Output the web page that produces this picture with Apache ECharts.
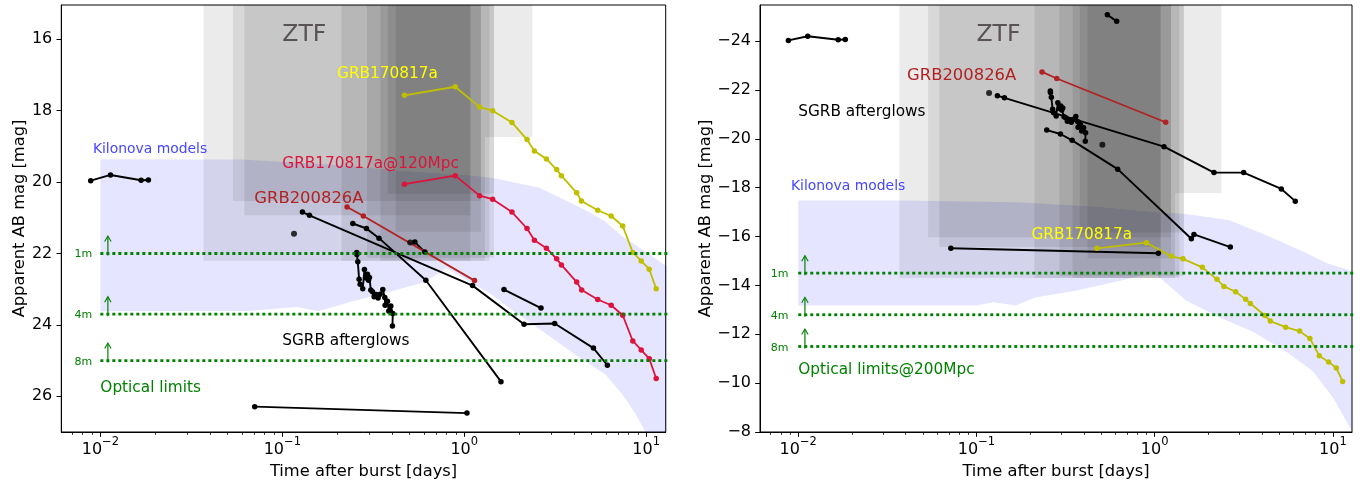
<!DOCTYPE html>
<html><head><meta charset="utf-8">
<script src="https://cdn.jsdelivr.net/npm/echarts@6/dist/echarts.min.js"></script>
<style>html,body{margin:0;padding:0;background:#fff;}#c{width:1367px;height:485px;}</style>
</head><body><div id="c"></div>
<script>
// ================= DATA =================
const xTickValues = [0.01, 0.1, 1, 10];
const xMinorTicks = [0.007,0.008,0.009,0.02,0.03,0.04,0.05,0.06,0.07,0.08,0.09,0.2,0.3,0.4,0.5,0.6,0.7,0.8,0.9,2,3,4,5,6,7,8,9];
const yTicksLeft = [16, 18, 20, 22, 24, 26];
const yTicksRight = [-24, -22, -20, -18, -16, -14, -12, -10, -8];

// ZTF observing windows (days) and depth (apparent / absolute @200Mpc)
const ztfStart = [0.0369, 0.0535, 0.0618, 0.2115, 0.292, 0.346, 0.38, 0.42, 1.30];
const ztfEnd   = [1.375, 1.235, 1.08, 1.30, 1.458, 1.08, 1.458, 1.235, 2.366];
const ztfLimitApp = [22.2, 20.53, 20.93, 22.2, 22.12, 22.2, 20.33, 21.39, 18.74];
const ztfLimitAbs = [-14.3, -15.97, -15.57, -14.3, -14.38, -14.3, -16.17, -15.11, -17.78];

// Kilonova model envelopes
const kiloUpTL = [0.01, 0.06, 0.2, 0.44, 1.03, 1.42, 2.6, 3.6, 4.83, 5.97, 7.38, 9.51, 12.88, 15];
const kiloUpML = [19.36, 19.37, 19.52, 19.68, 19.81, 19.88, 20.16, 20.51, 20.83, 21.11, 21.52, 21.89, 22.35, 22.6];
const kiloLoTL = [0.01, 0.066, 0.12, 0.158, 0.236, 0.39, 0.6, 0.8, 1.39, 1.95, 2.97, 4.54, 5.97, 7.38, 8.73, 9.91, 11, 15];
const kiloLoML = [23.62, 23.61, 23.50, 23.62, 23.36, 23.07, 22.81, 22.41, 23.13, 23.68, 24.33, 25.0, 25.39, 25.94, 26.49, 27.0, 27.5, 29];
const kiloUpTR = [0.01, 0.037, 0.17, 0.49, 1.0, 1.5, 2.63, 4.4, 7.1, 9.2, 12.74, 15];
const kiloUpMR = [-17.48, -17.48, -17.41, -17.21, -17.0, -16.92, -16.67, -16.0, -15.33, -14.92, -14.59, -14.45];
const kiloLoTR = [0.01, 0.1, 0.1245, 0.1655, 0.214, 0.36, 0.64, 1.0, 1.5, 2.3, 3.56, 5.48, 7.73, 10, 12.74, 15];
const kiloLoMR = [-13.18, -13.18, -13.31, -13.18, -13.51, -13.78, -14.19, -14.5, -13.38, -12.7, -12.1, -11.29, -10.49, -9.41, -8.07, -7.5];

// Optical limits
const limitNames = ['1m', '4m', '8m'];
const limitsApp = [22.0, 23.7, 25.0];
const limitsAbs = [-14.5, -12.8, -11.5];
const limitStartT = 0.01;
const limitEndT = 20;

// SGRB afterglows (apparent)
const sgrbA_L = [[0.00885,19.96],[0.01137,19.80],[0.01675,19.95],[0.01837,19.94]];
const sgrbB_L = [[0.129,20.84],[0.141,20.93],[1.111,22.90],[2.131,23.98],[3.141,23.96],[5.13,24.65],[6.12,25.13]];
const sgrbC_L = [[0.244,21.16],[0.290,21.30],[0.340,21.57],[0.615,22.75],[1.592,25.59]];
const sgrbD_L = [[0.2566,21.97],[0.2570,22.03],[0.260,22.23],[0.2643,22.72],[0.2677,22.86],[0.2768,22.99],[0.2827,22.45],[0.2887,22.69],[0.2938,22.58],[0.2975,22.75],[0.3013,22.67],[0.3064,23.02],[0.313,23.07],[0.3197,23.21],[0.3279,23.15],[0.3363,23.25],[0.3449,23.14],[0.3567,23.01],[0.3659,23.23],[0.3674,23.45],[0.3784,23.34],[0.3848,23.61],[0.3947,23.47],[0.4048,23.68],[0.4031,24.03]];
const sgrbE_L = [[1.654,23.01],[2.642,23.53]];
const sgrbF_L = [[0.0705,26.29],[1.035,26.47]];
const sgrbG_L = [[0.5353,21.68],[0.6076,21.96]];
const sgrbDots_L = [[0.116,21.45],[0.5045,21.69]];
const grb200826_L = [[0.227,20.70],[0.279,20.95],[1.139,22.76]];
const grb170817_L = [[0.469,17.57],[0.892,17.33],[1.214,17.90],[1.432,18.00],[1.829,18.33],[2.213,18.81],[2.43,19.13],[2.827,19.35],[3.221,19.65],[3.42,19.82],[4.15,20.30],[4.406,20.53],[5.415,20.79],[6.418,20.95],[7.43,21.23],[8.44,21.97],[9.39,22.21],[10.39,22.44],[11.35,22.99]];
const grb170817at120_L = [[0.469,20.06],[0.892,19.82],[1.214,20.38],[1.432,20.48],[1.829,20.84],[2.213,21.30],[2.43,21.63],[2.83,21.85],[3.22,22.15],[3.42,22.32],[4.15,22.80],[4.42,23.02],[5.415,23.29],[6.418,23.45],[7.43,23.73],[8.44,24.45],[9.39,24.70],[10.4,24.95],[11.35,25.50]];

// SGRB afterglows (absolute)
const sgrbA_R = [[0.0088,-24.03],[0.0113,-24.20],[0.01675,-24.06],[0.01836,-24.07]];
const sgrbB_R = [[0.131,-21.77],[0.1435,-21.68],[1.128,-19.68],[2.151,-18.62],[3.157,-18.62],[5.135,-17.95],[6.152,-17.45]];
const sgrbC_R = [[0.248,-20.36],[0.296,-20.20],[0.344,-19.94],[0.620,-18.76],[1.606,-15.91]];
const sgrbD_R = [[0.2597,-21.96],[0.2601,-21.90],[0.2631,-21.70],[0.2675,-21.21],[0.2709,-21.07],[0.2801,-20.94],[0.2861,-21.48],[0.2922,-21.24],[0.2973,-21.35],[0.3011,-21.18],[0.3049,-21.26],[0.3101,-20.91],[0.3168,-20.86],[0.3235,-20.72],[0.3318,-20.78],[0.3403,-20.68],[0.349,-20.79],[0.361,-20.92],[0.3703,-20.70],[0.3718,-20.48],[0.383,-20.59],[0.3894,-20.32],[0.3994,-20.46],[0.4097,-20.25],[0.408,-19.90]];
const sgrbE_R = [[1.661,-16.09],[2.658,-15.57]];
const sgrbF_R = [[0.0718,-15.52],[1.049,-15.32]];
const sgrbG_R = [[0.5425,-25.08],[0.6119,-24.81]];
const sgrbDots_R = [[0.1177,-21.88],[0.5087,-19.76]];
const grb200826_R = [[0.2333,-22.74],[0.2821,-22.47],[1.153,-20.68]];
const grb170817_R = [[0.4747,-15.52],[0.8985,-15.75],[1.241,-15.19],[1.441,-15.09],[1.851,-14.74],[2.236,-14.25],[2.447,-13.96],[2.847,-13.74],[3.238,-13.43],[3.442,-13.26],[4.156,-12.77],[4.456,-12.54],[5.429,-12.29],[6.505,-12.13],[7.43,-11.83],[8.39,-11.12],[9.46,-10.87],[10.45,-10.62],[11.34,-10.07]];

// ================= STYLE / LAYOUT =================
const FONT = 'DejaVu Sans';
const X_MIN = 0.0061, X_MAX = 12.8;
const Y_L = [15.04, 27.0], Y_R = [-25.48, -8.0];
const C = {black:'#000000', yellow:'#bfbf00', crimson:'#dc143c', brown:'#b22222', green:'#008000'};

const annotL = [
  {text:'ZTF', t:0.1, m:16.03, color:'#5a5353', size:23.5},
  {text:'GRB170817a', t:0.2, m:17.02, color:'#ffff00', size:15.3},
  {text:'GRB170817a@120Mpc', t:0.1, m:19.52, color:'#dc143c', size:15.3},
  {text:'GRB200826A', t:0.0702, m:20.51, color:'#b22222', size:16.4},
  {text:'Kilonova models', t:0.0091, m:19.12, color:'#4646ff', size:13.9},
  {text:'SGRB afterglows', t:0.1, m:24.49, color:'#000000', size:15.3},
  {text:'Optical limits', t:0.01, m:25.82, color:'#008000', size:15.3}
];
const annotR = [
  {text:'ZTF', t:0.1, m:-24.04, color:'#5a5353', size:23.5},
  {text:'GRB170817a', t:0.2035, m:-16.0, color:'#ffff00', size:15.3},
  {text:'GRB200826A', t:0.0408, m:-22.5, color:'#b22222', size:16.4},
  {text:'Kilonova models', t:0.0091, m:-18.02, color:'#4646ff', size:13.9},
  {text:'SGRB afterglows', t:0.01, m:-21.04, color:'#000000', size:15.3},
  {text:'Optical limits@200Mpc', t:0.01, m:-10.48, color:'#008000', size:15.3}
];
const limitLabelT = [0.0072, 0.0070];
const arrowT = [0.011, 0.0109];

function fmtPow(v){
  const e = Math.round(Math.log10(v));
  return '{b|10}{s|' + (e < 0 ? '\u2212' + (-e) : String(e)) + '}';
}
function fmtY(v){ return v < 0 ? '\u2212' + Math.abs(v) : String(v); }

function xAxisMain(gi){
  return {type:'log', logBase:10, gridIndex:gi, min:X_MIN, max:X_MAX, position:'bottom',
    name:'Time after burst [days]', nameLocation:'middle', nameGap:32,
    nameTextStyle:{fontFamily:FONT, fontSize:16.3, color:'#000'},
    axisLine:{show:true, onZero:false, lineStyle:{color:'#000', width:1}},
    axisTick:{show:true, inside:false, length:4.8, lineStyle:{color:'#000', width:1}, customValues:xTickValues},
    axisLabel:{show:true, margin:4, customValues:xTickValues, formatter:fmtPow,
      rich:{b:{fontFamily:FONT, fontSize:16, color:'#000', lineHeight:22, verticalAlign:'bottom'},
            s:{fontFamily:FONT, fontSize:11.5, color:'#000', lineHeight:12, verticalAlign:'top'}}},
    splitLine:{show:false}};
}
function xAxisMinor(gi){
  return {type:'log', logBase:10, gridIndex:gi, min:X_MIN, max:X_MAX, position:'bottom',
    axisLine:{show:false}, axisLabel:{show:false}, splitLine:{show:false},
    axisTick:{show:true, inside:false, length:2.8, lineStyle:{color:'#000', width:0.8}, customValues:xMinorTicks}};
}
function yAxis(gi, ext, ticks, gap){
  return {type:'value', gridIndex:gi, min:ext[0], max:ext[1], inverse:true,
    name:'Apparent AB mag [mag]', nameLocation:'middle', nameGap:gap,
    nameTextStyle:{fontFamily:FONT, fontSize:16.3, color:'#000'},
    axisLine:{show:true, onZero:false, lineStyle:{color:'#000', width:1}},
    axisTick:{show:true, inside:false, length:4.8, lineStyle:{color:'#000', width:1}, customValues:ticks},
    axisLabel:{show:true, margin:9, customValues:ticks, formatter:fmtY, fontFamily:FONT, fontSize:16, color:'#000'},
    splitLine:{show:false}};
}

function lineS(p, data, color, width, z){
  return {type:'line', xAxisIndex:p, yAxisIndex:p, data:data, symbol:'circle', symbolSize:5.5,
    showSymbol:true, itemStyle:{color:color}, lineStyle:{color:color, width:width||1.9},
    z:z||6, silent:true, animation:false, clip:true};
}
function dotsS(p, data){
  return {type:'scatter', xAxisIndex:p, yAxisIndex:p, data:data, symbol:'circle', symbolSize:6,
    itemStyle:{color:'#000'}, z:6, silent:true, animation:false};
}
function bandS(p, upT, upM, loT, loM){
  return {type:'custom', xAxisIndex:p, yAxisIndex:p, clip:true, silent:true, z:2, animation:false,
    data:[[upT[0], upM[0]]],
    renderItem:function(params, api){
      const pts = [];
      for (let i = 0; i < upT.length; i++) pts.push(api.coord([upT[i], upM[i]]));
      for (let i = loT.length - 1; i >= 0; i--) pts.push(api.coord([loT[i], loM[i]]));
      return {type:'polygon', shape:{points:pts}, style:{fill:'rgba(0,0,255,0.1)'}};
    }};
}
function ztfS(p, lims, top){
  const data = ztfStart.map((s, i) => [s, ztfEnd[i], lims[i]]);
  return {type:'custom', xAxisIndex:p, yAxisIndex:p, clip:true, silent:true, z:3, animation:false,
    data:data, encode:{x:[0,1], y:2},
    renderItem:function(params, api){
      const a = api.coord([api.value(0), top]);
      const b = api.coord([api.value(1), api.value(2)]);
      return {type:'rect', shape:{x:a[0], y:a[1], width:b[0]-a[0], height:b[1]-a[1]}, style:{fill:'rgba(0,0,0,0.08)'}};
    }};
}
function limitLines(p, lims){
  return lims.map(l => ({type:'line', xAxisIndex:p, yAxisIndex:p, data:[[limitStartT, l],[limitEndT, l]],
    symbol:'none', lineStyle:{color:C.green, width:2.8, type:[3,3]}, z:7, silent:true, animation:false, clip:true}));
}
function arrowsS(p, lims, t){
  return {type:'custom', xAxisIndex:p, yAxisIndex:p, silent:true, z:8, animation:false,
    data:lims.map(l => [t, l]),
    renderItem:function(params, api){
      const c = api.coord([api.value(0), api.value(1)]);
      const x = c[0], y = c[1] + 2;
      return {type:'group', children:[
        {type:'line', shape:{x1:x, y1:y, x2:x, y2:y-19}, style:{stroke:C.green, lineWidth:1.2}},
        {type:'polyline', shape:{points:[[x-3.2, y-14], [x, y-19.5], [x+3.2, y-14]]}, style:{stroke:C.green, lineWidth:1.1, fill:null}}
      ]};
    }};
}
function textS(p, items){
  return {type:'custom', xAxisIndex:p, yAxisIndex:p, silent:true, z:9, animation:false, clip:false,
    data:items.map(a => [a.t, a.m]),
    renderItem:function(params, api){
      const a = items[params.dataIndex];
      const c = api.coord([api.value(0), api.value(1)]);
      const dy = a.size < 12 ? 6 : (a.size > 20 ? 2.5 : 4);
      return {type:'text', x:c[0], y:c[1] - 0.35 * a.size + dy,
        style:{text:a.text, fill:a.color, font:a.size + 'px "' + FONT + '"', align:'left', verticalAlign:'middle',
               textAlign:'left', textVerticalAlign:'middle'}};
    }};
}

const series = [];
// left panel
series.push(ztfS(0, ztfLimitApp, Y_L[0]));
series.push(bandS(0, kiloUpTL, kiloUpML, kiloLoTL, kiloLoML));
series.push(...limitLines(0, limitsApp));
series.push(arrowsS(0, limitsApp, arrowT[0]));
[sgrbA_L, sgrbB_L, sgrbC_L, sgrbD_L, sgrbE_L, sgrbF_L, sgrbG_L].forEach(d => series.push(lineS(0, d, C.black, 1.9)));
series.push(dotsS(0, sgrbDots_L));
series.push(lineS(0, grb200826_L, C.brown, 1.8));
series.push(lineS(0, grb170817_L, C.yellow, 1.8));
series.push(lineS(0, grb170817at120_L, C.crimson, 1.8));
series.push(textS(0, annotL.concat(limitNames.map((n, i) => ({text:n, t:limitLabelT[0], m:limitsApp[i] - 0.03, color:C.green, size:11})))));
// right panel
series.push(ztfS(1, ztfLimitAbs, Y_R[0]));
series.push(bandS(1, kiloUpTR, kiloUpMR, kiloLoTR, kiloLoMR));
series.push(...limitLines(1, limitsAbs));
series.push(arrowsS(1, limitsAbs, arrowT[1]));
[sgrbA_R, sgrbB_R, sgrbC_R, sgrbD_R, sgrbE_R, sgrbF_R, sgrbG_R].forEach(d => series.push(lineS(1, d, C.black, 1.9)));
series.push(dotsS(1, sgrbDots_R));
series.push(lineS(1, grb200826_R, C.brown, 1.8));
series.push(lineS(1, grb170817_R, C.yellow, 1.8));
series.push(textS(1, annotR.concat(limitNames.map((n, i) => ({text:n, t:limitLabelT[1], m:limitsAbs[i] - 0.04, color:C.green, size:11})))));

const chart = echarts.init(document.getElementById('c'), null, {renderer:'canvas', width:1367, height:485});
chart.setOption({
  animation:false,
  backgroundColor:'#ffffff',
  textStyle:{fontFamily:FONT},
  grid:[
    {left:61.3, right:701.3, top:5, bottom:46.7, show:true, borderColor:'#000', borderWidth:1, backgroundColor:'#fff', containLabel:false},
    {left:760, right:15, top:5, bottom:46.7, show:true, borderColor:'#000', borderWidth:1, backgroundColor:'#fff', containLabel:false}
  ],
  xAxis:[xAxisMain(0), xAxisMain(1), xAxisMinor(0), xAxisMinor(1)],
  yAxis:[yAxis(0, Y_L, yTicksLeft, 30), yAxis(1, Y_R, yTicksRight, 42)],
  series:series
});
</script></body></html>
